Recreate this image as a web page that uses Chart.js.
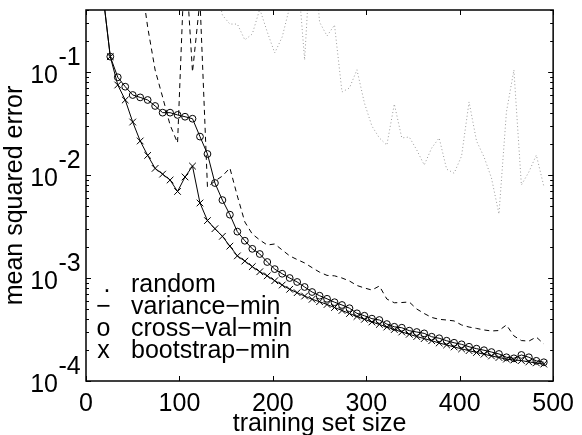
<!DOCTYPE html>
<html>
<head>
<meta charset="utf-8">
<script src="https://cdn.jsdelivr.net/npm/chart.js@4.4.1/dist/chart.umd.min.js"></script>
<style>
  html, body { margin: 0; padding: 0; background: #fff; }
  canvas { display: block; }
</style>
</head>
<body>
<canvas id="mse" width="582" height="435"></canvas>
<script>
// training set size (x) and mean squared error for each selection rule
const sizes = [18, 26, 34, 42, 50, 58, 66, 74, 82, 90, 98, 106, 114, 122, 130, 138, 146, 154, 162, 170,
  178, 186, 194, 202, 210, 218, 226, 234, 242, 250, 258, 266, 274, 282, 290, 298, 306, 314, 322, 330,
  338, 346, 354, 362, 370, 378, 386, 394, 402, 410, 418, 426, 434, 442, 450, 458, 466, 474, 482, 490];

const randomMse = [null, null, null, null, null, null, null, null, null, null, null, null, null, null, null,
  0.78, 0.357, 0.292, 0.292, 0.205, 0.234, 0.409, 0.245, 0.153, 0.219, 0.428, 1.07, 0.131, 2.4, 0.305,
  0.224, 0.286, 0.064, 0.070, 0.105, 0.050, 0.0299, 0.0229, 0.0195, 0.0489, 0.0229, 0.0234, 0.0175, 0.0125,
  0.0183, 0.0229, 0.0114, 0.0104, 0.0153, 0.0512, 0.0214, 0.0150, 0.00935, 0.00418, 0.0409, 0.1045, 0.0080,
  0.0107, 0.0156, 0.0078];

const varianceMse = [4.0, 3.0, 2.5, 2.0, 1.5, 0.9, 0.273, 0.1045, 0.0571, 0.0306, 0.0205, 1.5, 0.1, 0.5,
  0.00764, 0.00875, 0.00977, 0.0117, 0.00625, 0.00350, 0.00267, 0.00234, 0.00209, 0.00214, 0.00187, 0.00164,
  0.00151, 0.00140, 0.00126, 0.00114, 0.00106, 0.00105, 0.00100, 0.000935, 0.000846, 0.000800, 0.000764,
  0.000836, 0.000625, 0.000575, 0.000578, 0.000585, 0.000500, 0.000452, 0.000414, 0.000397, 0.000391,
  0.000383, 0.000350, 0.000334, 0.000324, 0.000313, 0.000306, 0.000309, 0.000350, 0.000274, 0.000247,
  0.000244, 0.000267, 0.000229];

const crossValMse = [0.58, 0.141, 0.0889, 0.0720, 0.0598, 0.0567, 0.0535, 0.0468, 0.0403, 0.0403, 0.0383,
  0.0368, 0.0352, 0.0236, 0.0160, 0.00836, 0.00571, 0.00412, 0.00282, 0.00230, 0.00192, 0.00171, 0.00143,
  0.00122, 0.00110, 0.00100, 0.000915, 0.000818, 0.000731, 0.000673, 0.000628, 0.000582, 0.000547, 0.000509,
  0.000454, 0.000430, 0.000403, 0.000391, 0.000357, 0.000336, 0.000329, 0.000308, 0.000299, 0.000290,
  0.000269, 0.000260, 0.000246, 0.000235, 0.000227, 0.000215, 0.000206, 0.000199, 0.000191, 0.000183,
  0.000170, 0.000166, 0.000179, 0.000170, 0.000157, 0.000152];

const bootstrapMse = [0.58, 0.141, 0.0748, 0.0535, 0.0327, 0.0214, 0.0155, 0.0116, 0.0102, 0.00894, 0.00692,
  0.00957, 0.0122, 0.00535, 0.00361, 0.00301, 0.00254, 0.00204, 0.00164, 0.00146, 0.00129, 0.00115, 0.00105,
  0.000941, 0.000855, 0.000777, 0.000720, 0.000668, 0.000621, 0.000589, 0.000553, 0.000517, 0.000484,
  0.000452, 0.000423, 0.000397, 0.000374, 0.000354, 0.000334, 0.000316, 0.000299, 0.000284, 0.000270,
  0.000258, 0.000246, 0.000234, 0.000224, 0.000214, 0.000205, 0.000197, 0.000189, 0.000182, 0.000175,
  0.000169, 0.000163, 0.000160, 0.000158, 0.000153, 0.000150, 0.000146];

const xTicks = [0, 100, 200, 300, 400, 500];
const yDecades = [-4, -3, -2, -1];
const legendSymbols = ['.', '\u2212', 'o', 'x'];
const legendNames = ['random', 'variance\u2212min', 'cross\u2212val\u2212min', 'bootstrap\u2212min'];

const FONT = "'Liberation Sans', Arial, Helvetica, sans-serif";
const pts = arr => sizes.map((s, i) => ({x: s, y: arr[i]}));

// matlab style box, inward ticks, 10^n labels and the text legend
const matlabAxes = {
  id: 'matlabAxes',
  afterDraw(chart) {
    const {ctx, chartArea: a, scales: {x, y}} = chart;
    ctx.save();
    ctx.strokeStyle = '#000';
    ctx.lineWidth = 1.5;
    ctx.strokeRect(a.left, a.top, a.right - a.left, a.bottom - a.top);

    ctx.lineWidth = 1;
    ctx.beginPath();
    xTicks.forEach(v => {
      const px = Math.round(x.getPixelForValue(v)) + 0.5;
      ctx.moveTo(px, a.bottom); ctx.lineTo(px, a.bottom - 5);
      ctx.moveTo(px, a.top); ctx.lineTo(px, a.top + 5);
    });
    yDecades.forEach(e => {
      for (let m = 1; m < 10; m++) {
        const v = m * Math.pow(10, e);
        if (v > y.max) break;
        const py = Math.round(y.getPixelForValue(v)) + 0.5;
        const len = m === 1 ? 5 : 3;
        ctx.moveTo(a.left, py); ctx.lineTo(a.left + len, py);
        ctx.moveTo(a.right, py); ctx.lineTo(a.right - len, py);
      }
    });
    ctx.stroke();

    ctx.fillStyle = '#000';
    ctx.font = '25px ' + FONT;
    ctx.textBaseline = 'alphabetic';
    yDecades.forEach(e => {
      const py = y.getPixelForValue(Math.pow(10, e));
      ctx.textAlign = 'right';
      ctx.fillText('10', 58, py + 11);
      ctx.textAlign = 'left';
      ctx.fillText('-' + (-e), 58.5, py - 7.5);
    });

    legendNames.forEach((name, i) => {
      const by = 292 + i * 22.1;
      ctx.textAlign = 'center';
      ctx.fillText(legendSymbols[i], i === 0 ? 107 : 103.5, by);
      ctx.textAlign = 'left';
      ctx.fillText(name, 131, by);
    });
    ctx.restore();
  }
};

new Chart(document.getElementById('mse'), {
  type: 'line',
  data: {
    datasets: [
      {label: legendNames[0], data: pts(randomMse), borderColor: '#9a9a9a', borderWidth: 1,
        borderDash: [1, 2.5], pointRadius: 0, clip: 0},
      {label: legendNames[1], data: pts(varianceMse), borderColor: '#000', borderWidth: 1,
        borderDash: [5, 4], pointRadius: 0, clip: 0},
      {label: legendNames[2], data: pts(crossValMse), borderColor: '#000', borderWidth: 1,
        pointStyle: 'circle', pointRadius: 3.4, pointBorderWidth: 1, pointBorderColor: '#000',
        pointBackgroundColor: 'rgba(0,0,0,0)', clip: 0},
      {label: legendNames[3], data: pts(bootstrapMse), borderColor: '#000', borderWidth: 1,
        pointStyle: 'crossRot', pointRadius: 4.7, pointBorderWidth: 1, pointBorderColor: '#000', clip: 0}
    ]
  },
  options: {
    responsive: false,
    animation: false,
    devicePixelRatio: 1,
    layout: {padding: {top: 10, right: 23, left: 0, bottom: 0}},
    plugins: {legend: {display: false}, tooltip: {enabled: false}},
    elements: {line: {tension: 0}},
    scales: {
      x: {
        type: 'linear', min: 0, max: 500,
        grid: {display: false, drawTicks: false},
        border: {display: false},
        ticks: {stepSize: 100, autoSkip: false, maxRotation: 0, padding: 8, color: '#000',
          font: {family: FONT, size: 25}},
        title: {display: true, text: 'training set size', color: '#000', padding: {top: 0, bottom: -4},
          font: {family: FONT, size: 25}},
        afterFit: s => { s.height = 54; }
      },
      y: {
        type: 'logarithmic', min: 1e-4, max: 0.4,
        grid: {display: false, drawTicks: false},
        border: {display: false},
        ticks: {display: false},
        title: {display: true, text: 'mean squared error', color: '#000', padding: {top: 0, bottom: 0},
          font: {family: FONT, size: 25}},
        afterFit: s => { s.width = 86; }
      }
    }
  },
  plugins: [matlabAxes]
});
</script>
</body>
</html>
